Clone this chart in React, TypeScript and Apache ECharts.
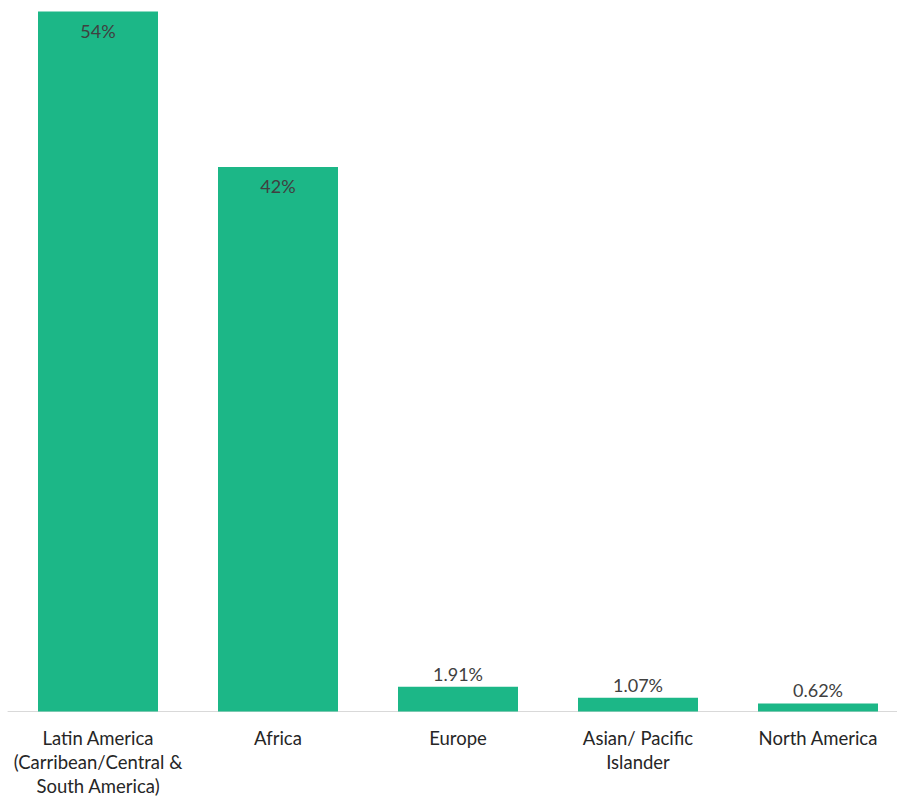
import React, { useEffect, useRef } from "react";
import * as echarts from "echarts";

const categories = [
  "Latin America\n(Carribean/Central &\nSouth America)",
  "Africa",
  "Europe",
  "Asian/ Pacific\nIslander",
  "North America",
];
const values = [54, 42, 1.91, 1.07, 0.62];
const valueLabels = ["54%", "42%", "1.91%", "1.07%", "0.62%"];
const insideLabel = [true, true, false, false, false];

export default function App() {
  const ref = useRef<HTMLDivElement>(null);
  useEffect(() => {
    if (!ref.current) return;
    const chart = echarts.init(ref.current, undefined, { renderer: "svg" });
    const font = "Lato, 'Open Sans', sans-serif";
    chart.setOption({
      animation: false,
      grid: {
        left: 8,
        right: -11,
        top: 11.5,
        bottom: 86.5,
        outerBoundsMode: "none",
        containLabel: false,
      },
      xAxis: {
        type: "category",
        data: categories,
        axisLine: { show: true, lineStyle: { color: "#d9d9d9", width: 1 } },
        axisTick: { show: false },
        axisLabel: {
          interval: 0,
          color: "#262626",
          fontFamily: font,
          fontSize: 18.5,
          lineHeight: 24,
          margin: 14,
        },
      },
      yAxis: {
        type: "value",
        min: 0,
        max: 54,
        show: false,
        splitLine: { show: false },
      },
      series: [
        {
          type: "bar",
          barWidth: 120,
          itemStyle: { color: "#1cb787" },
          data: values.map((v, i) => ({
            value: v,
            label: {
              show: true,
              position: insideLabel[i] ? "insideTop" : "top",
              distance: insideLabel[i] ? 10 : 4,
              formatter: valueLabels[i],
              color: "#404040",
              fontFamily: font,
              fontSize: 18,
            },
          })),
        },
      ],
    });
    return () => chart.dispose();
  }, []);
  return (
    <div
      ref={ref}
      style={{ position: "absolute", left: 0, top: 0, width: 897, height: 798 }}
    />
  );
}
